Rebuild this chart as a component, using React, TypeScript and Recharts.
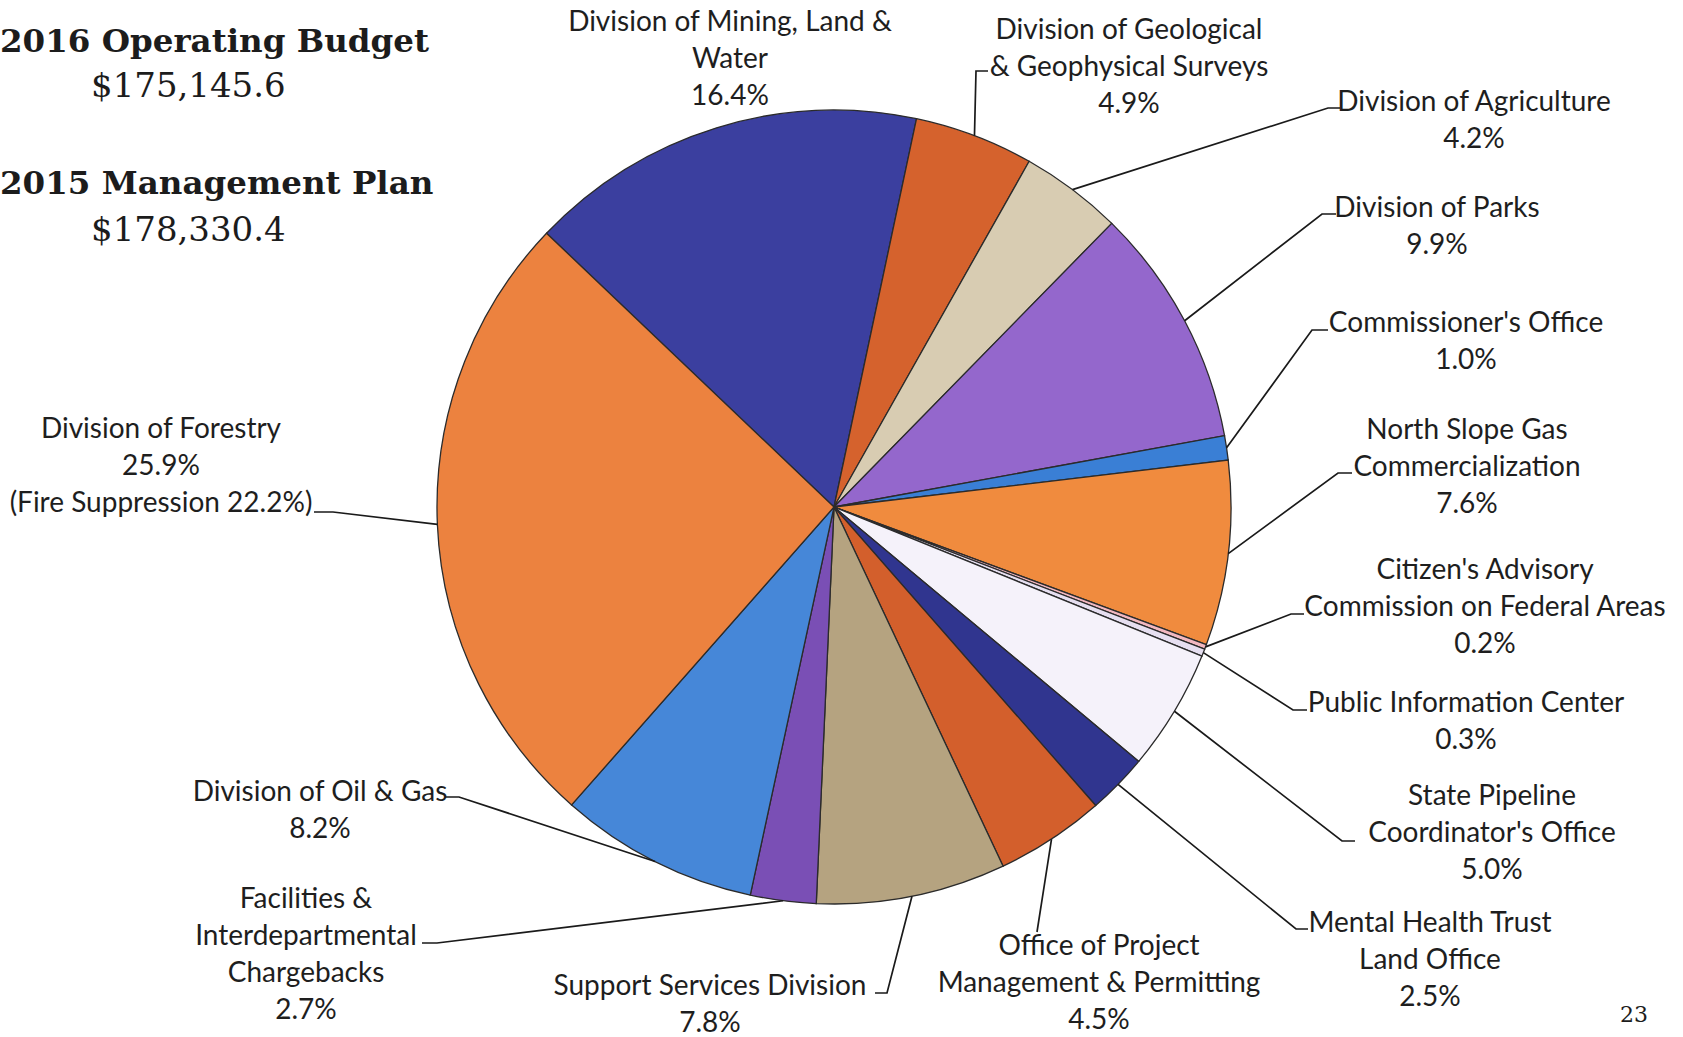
import React from "react";
import { PieChart, Pie, Cell } from "recharts";

// slices, clockwise from the Mining slice
const departments = [
  "Division of Mining, Land & Water",
  "Division of Geological & Geophysical Surveys",
  "Division of Agriculture",
  "Division of Parks",
  "Commissioner's Office",
  "North Slope Gas Commercialization",
  "Citizen's Advisory Commission on Federal Areas",
  "Public Information Center",
  "State Pipeline Coordinator's Office",
  "Mental Health Trust Land Office",
  "Office of Project Management & Permitting",
  "Support Services Division",
  "Facilities & Interdepartmental Chargebacks",
  "Division of Oil & Gas",
  "Division of Forestry",
];

const shares = [16.4, 4.9, 4.2, 9.9, 1.0, 7.6, 0.2, 0.3, 5.0, 2.5, 4.5, 7.8, 2.7, 8.2, 25.9];

const fireSuppression = 22.2;

// how each label is broken into lines (percent is appended)
const labelLines = [
  ["Division of Mining, Land &", "Water"],
  ["Division of Geological", "& Geophysical Surveys"],
  ["Division of Agriculture"],
  ["Division of Parks"],
  ["Commissioner's Office"],
  ["North Slope Gas", "Commercialization"],
  ["Citizen's Advisory", "Commission on Federal Areas"],
  ["Public Information Center"],
  ["State Pipeline", "Coordinator's Office"],
  ["Mental Health Trust", "Land Office"],
  ["Office of Project", "Management & Permitting"],
  ["Support Services Division"],
  ["Facilities &", "Interdepartmental", "Chargebacks"],
  ["Division of Oil & Gas"],
  ["Division of Forestry"],
];

const colors = [
  "#3b3f9f",
  "#d5622d",
  "#d8ccb2",
  "#9467cc",
  "#3a7fd5",
  "#f08b3e",
  "#f2b8c0",
  "#e6dff0",
  "#f5f2fa",
  "#30358f",
  "#d35f2c",
  "#b5a380",
  "#7a4fb5",
  "#4687d8",
  "#ec823f",
];

// label placement: text centre x, first line y, leader elbow, hook end x
const labelLayout = [
  { tx: 730, ty: 20, ex: null, ey: null, hx: null },
  { tx: 1129, ty: 28, ex: 976, ey: 71, hx: 988 },
  { tx: 1474, ty: 100, ex: 1328, ey: 108, hx: 1340 },
  { tx: 1437, ty: 206, ex: 1322, ey: 214, hx: 1336 },
  { tx: 1466, ty: 321, ex: 1312, ey: 330, hx: 1328 },
  { tx: 1467, ty: 428, ex: 1338, ey: 473, hx: 1352 },
  { tx: 1485, ty: 568, ex: 1291, ey: 614, hx: 1304 },
  { tx: 1466, ty: 701, ex: 1293, ey: 710, hx: 1307 },
  { tx: 1492, ty: 794, ex: 1342, ey: 841, hx: 1355 },
  { tx: 1430, ty: 921, ex: 1296, ey: 929, hx: 1308 },
  { tx: 1099, ty: 944, ex: 1037, ey: 932, hx: 1037 },
  { tx: 710, ty: 984, ex: 887, ey: 993, hx: 875 },
  { tx: 306, ty: 897, ex: 437, ey: 943, hx: 422 },
  { tx: 320, ty: 790, ex: 459, ey: 797, hx: 445 },
  { tx: 161, ty: 427, ex: 333, ey: 512, hx: 314 },
];

const data = departments.map((name, i) => ({ name, value: shares[i] }));

const LINE_H = 37;
const RAD = Math.PI / 180;
const labelFont = "Lato, 'Open Sans', sans-serif";

function SliceLabel(props: any) {
  const { cx, cy, midAngle, outerRadius, index } = props;
  const lay = labelLayout[index];
  let lines = [...labelLines[index], `${shares[index].toFixed(1)}%`];
  if (index === departments.length - 1) {
    lines = [...lines, `(Fire Suppression ${fireSuppression.toFixed(1)}%)`];
  }
  const sx = cx + outerRadius * Math.cos(-midAngle * RAD);
  const sy = cy + outerRadius * Math.sin(-midAngle * RAD);
  return (
    <g>
      {lay.ex != null && (
        <polyline
          points={`${sx},${sy} ${lay.ex},${lay.ey} ${lay.hx},${lay.ey}`}
          fill="none"
          stroke="#1a1a1a"
          strokeWidth={1.7}
        />
      )}
      {lines.map((t, i) => (
        <text
          key={i}
          x={lay.tx}
          y={lay.ty + i * LINE_H}
          textAnchor="middle"
          dominantBaseline="central"
          fontFamily={labelFont}
          fontSize={28}
          fill="#1e1e1e"
        >
          {t}
        </text>
      ))}
    </g>
  );
}

export default function App() {
  return (
    <div
      style={{
        position: "absolute",
        left: 0,
        top: 0,
        width: 1683,
        height: 1037,
        background: "#ffffff",
        overflow: "hidden",
      }}
    >
      <PieChart width={1683} height={1037}>
        <Pie
          data={data}
          dataKey="value"
          nameKey="name"
          cx={829}
          cy={502}
          outerRadius={397}
          startAngle={136.4}
          endAngle={-223.6}
          stroke="#2b2b2b"
          strokeWidth={1.3}
          label={SliceLabel}
          labelLine={false}
          isAnimationActive={false}
        >
          {data.map((_, i) => (
            <Cell key={i} fill={colors[i]} />
          ))}
        </Pie>
      </PieChart>

      <svg
        width={1683}
        height={1037}
        style={{ position: "absolute", left: 0, top: 0, pointerEvents: "none" }}
      >
        <g fontFamily="'DejaVu Serif', serif" fill="#1c1c1c">
          <text x={0} y={40} dominantBaseline="central" fontSize={32.5} fontWeight="bold">
            2016 Operating Budget
          </text>
          <text x={91} y={85} dominantBaseline="central" fontSize={34}>
            $175,145.6
          </text>
          <text x={0} y={182} dominantBaseline="central" fontSize={32.5} fontWeight="bold">
            2015 Management Plan
          </text>
          <text x={91} y={229} dominantBaseline="central" fontSize={34}>
            $178,330.4
          </text>
          <text x={1634} y={1014} textAnchor="middle" dominantBaseline="central" fontSize={22}>
            23
          </text>
        </g>
      </svg>
    </div>
  );
}
